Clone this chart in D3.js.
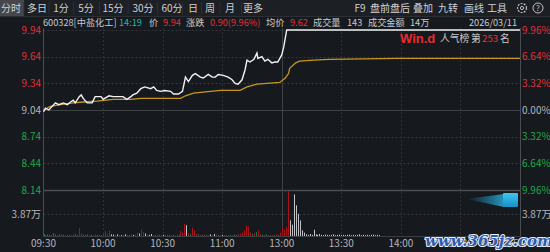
<!DOCTYPE html>
<html><head><meta charset="utf-8">
<script src="https://cdn.jsdelivr.net/npm/d3@7/dist/d3.min.js"></script>
<style>
html,body{margin:0;padding:0;background:#16191e;}
svg{display:block;font-family:"Noto Sans CJK SC","Noto Sans",sans-serif;}
</style></head>
<body>
<svg id="c" width="550" height="252"></svg>
<script>
// ---- data ----
const prevClose = 9.04;
const priceTicks = [9.94, 9.64, 9.34, 9.04, 8.74, 8.44, 8.14];
const pctLabels = ["9.96%", "6.64%", "3.32%", "0.00%", "3.32%", "6.64%", "9.96%"];
const volTickValue = 3.87;
const volTickLabel = "3.87万";
const timeLabels = ["09:30", "10:00", "10:30", "11:00", "13:00", "13:30", "14:00", "14:30", "15:00"];
const timeTickMinutes = [0, 30, 60, 90, 120, 150, 180, 210, 240];

const priceMinutes = [0,1,2.7,6,7.7,10,12,13.6,15,16,18,19,20,22,24.5,26,29,30,33,35,38,40,42,44,45,47,49,51,54,55.5,57,59,61,64,65.5,68,70,71.5,73,75,76.5,79,80.5,83,85,86.5,88,90.5,93,95,96.5,98,100,101.5,102.5,104,106,107.5,108,110,111.5,113,115,116.5,118,120,121,122.5,123,240];
const prices = [9.02,9.06,9.04,9.12,9.10,9.12,9.10,9.13,9.15,9.12,9.19,9.21,9.17,9.12,9.12,9.19,9.19,9.16,9.20,9.19,9.19,9.19,9.16,9.19,9.21,9.23,9.28,9.30,9.28,9.30,9.26,9.25,9.26,9.25,9.22,9.22,9.25,9.41,9.36,9.43,9.45,9.41,9.40,9.44,9.41,9.41,9.44,9.43,9.41,9.38,9.34,9.33,9.38,9.49,9.60,9.58,9.61,9.68,9.62,9.64,9.59,9.61,9.57,9.58,9.58,9.66,9.75,9.94,9.94,9.94];

const avgMinutes = [0,3.5,8.5,15,20,27,35,44,49,69,71.5,75.5,89,99,102.5,107.5,119,121.8,123.4,124,127,129,136,144,178,190,240];
const avgPrices = [9.04,9.08,9.10,9.12,9.13,9.14,9.16,9.16,9.17,9.17,9.20,9.23,9.26,9.26,9.30,9.33,9.35,9.40,9.45,9.51,9.57,9.59,9.60,9.61,9.62,9.62,9.62];

// volume per minute (万), direction: 1 up, -1 down, 0 flat
const volumes = [0.35,0.2,0.3,0.25,0.2,0.5,0.3,0.2,0.3,0.35,0.25,0.15,0.2,0.2,0.15,0.3,0.35,0.2,1.4,0.5,
0.25,0.2,0.3,0.15,0.25,0.15,0.3,0.2,0.2,0.15,0.35,0.9,0.4,1.0,0.3,0.25,0.2,0.3,0.2,0.15,
0.25,0.3,0.2,0.2,0.3,0.2,0.25,0.6,0.45,1.15,0.7,0.45,0.3,0.2,0.35,0.2,0.15,0.25,0.2,0.15,
0.2,0.25,0.15,0.2,0.15,0.2,0.15,0.3,0.2,0.9,0.6,2.15,1.9,0.5,0.3,1.45,1.0,0.4,0.25,0.2,
0.2,0.3,0.2,0.15,0.3,0.2,0.35,0.25,0.2,0.15,0.2,0.15,0.2,0.15,0.2,0.15,0.25,0.2,0.3,0.4,
0.6,1.0,1.85,1.7,0.6,0.35,0.5,0.7,1.0,0.3,0.25,0.2,0.3,0.2,0.15,0.2,0.15,0.3,0.2,0.6,
1.45,1.1,1.6,7.9,2.75,2.0,7.3,5.4,3.9,2.75,1.0,0.6,0.3,0.2,0.35,0.2,1.1,0.3,0.2,0.35,
0.2,0.15,0.25,0.2,0.15,0.2,0.3,0.15,0.2,0.25,0.15,0.2,0.15,0.2,0.25,0.15,0.2,0.15,0.2,0.3,
0.15,0.2,0.15,0.2,0.15,0.2,0.25,0.15,0.2,0.15];
const volDirs = [-1,1,-1,-1,1,-1,-1,1,-1,1,-1,1,1,-1,1,1,-1,-1,1,1,
-1,-1,-1,1,-1,1,1,-1,1,-1,1,1,1,1,0,0,1,0,1,0,
1,0,1,-1,1,0,1,1,0,1,1,0,1,0,0,1,-1,1,-1,1,
0,1,-1,-1,1,-1,1,1,-1,1,1,1,0,1,-1,1,1,1,-1,1,
-1,1,-1,1,0,1,0,1,-1,1,0,-1,1,-1,-1,1,-1,-1,1,1,
1,1,1,1,1,-1,1,-1,1,1,-1,1,-1,1,-1,1,-1,1,-1,1,
1,1,1,1,0,0,0,0,0,0,0,0,0,0,0,0,0,0,0,0,
0,0,0,0,0,0,0,0,0,0,0,0,0,0,0,0,0,0,0,0,
0,0,0,0,0,0,0,0,0,0];

const toolbarLeft = ["分时","多日","1分","5分","15分","30分","60分","日","周","月","更多"];
const toolbarRight = ["F9","盘前盘后","叠加","九转","画线","工具"];

// ---- drawing ----
const svg = d3.select("#c");
const RED = "#e0323a", GREEN = "#1fa84a", GRAY = "#b4b6ba";
const x = d3.scaleLinear().domain([0, 240]).range([43.5, 520]);
const y = d3.scaleLinear().domain([8.14, 9.94]).range([190, 30]);
const yv = d3.scaleLinear().domain([0, volTickValue]).range([236, 214]);

svg.append("rect").attr("width", 550).attr("height", 252).attr("fill", "#16191e");
// toolbar
svg.append("rect").attr("width", 550).attr("height", 16).attr("fill", "#1c1f24");
svg.append("line").attr("x1",0).attr("x2",550).attr("y1",16.5).attr("y2",16.5).attr("stroke","#2b2e33");
const tlX = [11,37,61,86,113,143,172,193,210,230,253];
svg.append("rect").attr("x",0).attr("y",0).attr("width",24).attr("height",16).attr("fill","#44474c");
toolbarLeft.forEach((t,i)=>{
  svg.append("text").attr("x",tlX[i]).attr("y",12).attr("text-anchor","middle")
    .attr("font-size",10).attr("fill","#cfd1d4").text(t);
  if(i>0) svg.append("line").attr("x1",tlX[i]-(tlX[i]-tlX[i-1])/2).attr("x2",tlX[i]-(tlX[i]-tlX[i-1])/2)
    .attr("y1",2).attr("y2",14).attr("stroke","#2c2f34");
});
const trX = [360,390,423,448,474,497];
toolbarRight.forEach((t,i)=>{
  svg.append("text").attr("x",trX[i]).attr("y",12).attr("text-anchor","middle")
    .attr("font-size",10).attr("fill","#cfd1d4").text(t);
});
svg.append("circle").attr("cx",522).attr("cy",8).attr("r",4.5).attr("fill","none").attr("stroke","#bfc1c4").attr("stroke-width",1.2).attr("stroke-dasharray","2 1.2");
svg.append("circle").attr("cx",522).attr("cy",8).attr("r",1.6).attr("fill","none").attr("stroke","#bfc1c4");
svg.append("circle").attr("cx",538).attr("cy",8).attr("r",5).attr("fill","none").attr("stroke","#bfc1c4");
svg.append("text").attr("x",538).attr("y",11).attr("text-anchor","middle").attr("font-size",8).attr("fill","#bfc1c4").text("?");

// info row
const info = [
  [43,"600328[中盐化工]","#c8cacd"],[119,"14:19","#1fb8b3"],[149,"价","#c8cacd"],[163,"9.94",RED],
  [186,"涨跌","#c8cacd"],[210,"0.90(9.96%)",RED],[266,"均价","#c8cacd"],[290,"9.62",RED],
  [313,"成交量","#c8cacd"],[347,"143","#c8cacd"],[368,"成交金额","#c8cacd"],[410,"14万","#c8cacd"],
  [469,"2026/03/11","#c8cacd"]];
info.forEach(d=>svg.append("text").attr("x",d[0]).attr("y",25.5).attr("font-size",9.2).attr("fill",d[2]).text(d[1]));

// grid
const grid = svg.append("g");
priceTicks.forEach(p=>{
  const solid = (p===prevClose || p===8.14);
  grid.append("line").attr("x1",43.5).attr("x2",520).attr("y1",Math.round(y(p))+0.5).attr("y2",Math.round(y(p))+0.5)
    .attr("stroke", p===8.14 ? "#4a4d52" : (solid ? "#3e4146" : "#33363b"))
    .attr("stroke-width", p===8.14 ? 1.6 : 1)
    .attr("stroke-dasharray", solid ? null : "2 2");
});
grid.append("line").attr("x1",43.5).attr("x2",520).attr("y1",Math.round(yv(volTickValue))+0.5).attr("y2",Math.round(yv(volTickValue))+0.5)
  .attr("stroke","#33363b").attr("stroke-dasharray","2 2");
timeTickMinutes.forEach(m=>{
  if(m===0||m===240) return;
  grid.append("line").attr("x1",Math.round(x(m))+0.5).attr("x2",Math.round(x(m))+0.5).attr("y1",28).attr("y2",236)
    .attr("stroke", m===120 ? "#3e4146" : "#2e3136").attr("stroke-dasharray", m===120 ? null : "2 2");
});
grid.append("line").attr("x1",43.5).attr("x2",43.5).attr("y1",28).attr("y2",237).attr("stroke","#4a4d52");
grid.append("line").attr("x1",520.5).attr("x2",520.5).attr("y1",28).attr("y2",237).attr("stroke","#4a4d52");
grid.append("line").attr("x1",43.5).attr("x2",520.5).attr("y1",236.5).attr("y2",236.5).attr("stroke","#3a3d42");

// axis labels
priceTicks.forEach((p,i)=>{
  const col = p>prevClose ? RED : (p<prevClose ? GREEN : GRAY);
  svg.append("text").attr("x",41).attr("y",y(p)+3.5).attr("text-anchor","end").attr("font-size",10).attr("fill",col).text(p.toFixed(2));
  svg.append("text").attr("x",522).attr("y",y(p)+3.5).attr("font-size",10).attr("fill",col).text(pctLabels[i]);
});
svg.append("text").attr("x",41).attr("y",yv(volTickValue)+3.5).attr("text-anchor","end").attr("font-size",10).attr("fill",GRAY).text(volTickLabel);
svg.append("text").attr("x",522).attr("y",yv(volTickValue)+3.5).attr("font-size",10).attr("fill",GRAY).text(volTickLabel);
timeLabels.forEach((t,i)=>{
  svg.append("text").attr("x",x(timeTickMinutes[i])).attr("y",246.5).attr("text-anchor","middle").attr("font-size",10).attr("fill",GRAY).text(t);
});

// volume bars
const volCol = d => d===1 ? "#a8121a" : (d===-1 ? "#147d35" : "#c0c2c5");
svg.append("g").selectAll("rect").data(volumes).join("rect")
  .attr("x",(v,i)=>Math.round(x(i))).attr("width",1)
  .attr("y",v=>yv(v)).attr("height",v=>236-yv(v))
  .attr("fill",(v,i)=>volCol(volDirs[i]));

// lines
const priceData = priceMinutes.map((m,i)=>[m,prices[i]]);
const avgData = avgMinutes.map((m,i)=>[m,avgPrices[i]]);
const line = d3.line().x(d=>x(d[0])).y(d=>y(d[1]));
svg.append("path").attr("d",line(avgData)).attr("fill","none").attr("stroke","#c8961f").attr("stroke-width",1.3);
svg.append("path").attr("d",line(priceData)).attr("fill","none").attr("stroke","#f2f2f2").attr("stroke-width",1.4);

// Wind popularity label
svg.append("text").attr("x",400).attr("y",43).attr("font-size",13).attr("font-weight","bold").attr("fill","#ea2a2f")
  .attr("font-family","Liberation Sans, Arial, sans-serif").text("Win.d");
svg.append("text").attr("x",440).attr("y",42).attr("font-size",9.8).attr("fill","#c8cacd").text("人气榜");
svg.append("text").attr("x",471).attr("y",42).attr("font-size",9.8).attr("fill","#c8cacd").text("第");
svg.append("text").attr("x",482).attr("y",42).attr("font-size",9.8).attr("fill",RED).text("253");
svg.append("text").attr("x",500).attr("y",42).attr("font-size",9.8).attr("fill","#c8cacd").text("名");

// blue icon with glow streak
const defs = svg.append("defs");
const g1 = defs.append("linearGradient").attr("id","streak").attr("x1","0").attr("x2","1");
g1.append("stop").attr("offset","0").attr("stop-color","#1fa6d8").attr("stop-opacity",0);
g1.append("stop").attr("offset","1").attr("stop-color","#2ab6e6").attr("stop-opacity",0.8);
svg.append("path").attr("d","M466,199 L504,194 L504,207 Z").attr("fill","url(#streak)");
const g2 = defs.append("linearGradient").attr("id","sq").attr("x1","0").attr("y1","0").attr("x2","0").attr("y2","1");
g2.append("stop").attr("offset","0").attr("stop-color","#3cc8f0");
g2.append("stop").attr("offset","1").attr("stop-color","#1790c8");
svg.append("rect").attr("x",503).attr("y",193).attr("width",15).attr("height",14).attr("rx",1).attr("fill","url(#sq)");

// watermark
svg.append("text").attr("x",425).attr("y",246).attr("font-size",15)
  .attr("font-weight","bold").attr("font-style","italic").attr("font-family","DejaVu Serif, serif")
  .attr("fill","#2d5cae").attr("stroke","#e8eef8").attr("stroke-width",2).attr("paint-order","stroke")
  .text("www.365jz.com");
</script>
</body></html>
